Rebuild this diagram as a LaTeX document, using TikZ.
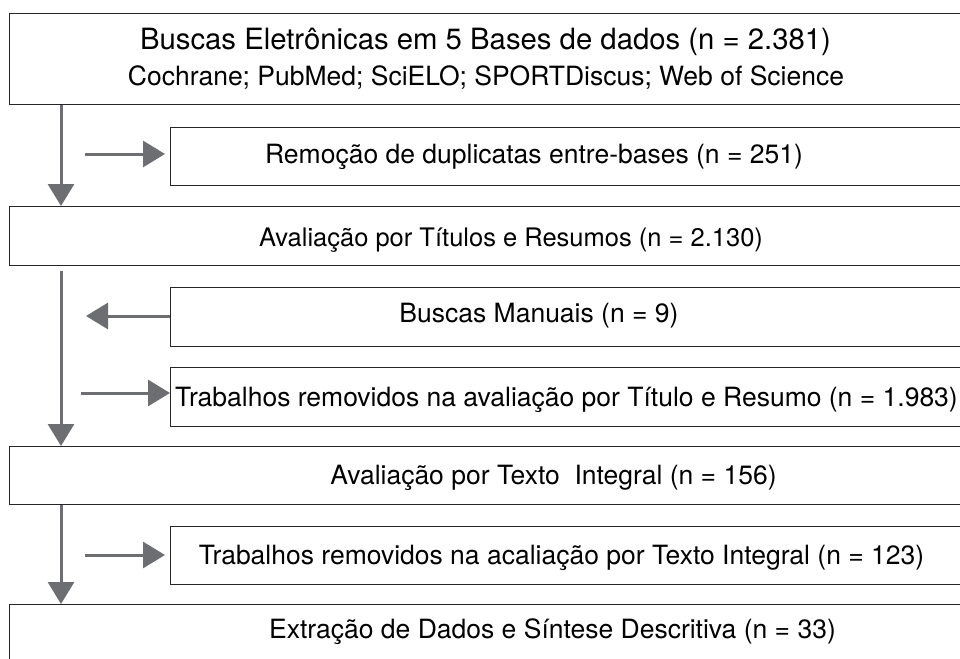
\documentclass[tikz,border=0pt]{standalone}
\usepackage{fontspec}
\setmainfont{TeX Gyre Heros}
\usetikzlibrary{arrows.meta}
\definecolor{flowgray}{RGB}{109,110,113}
\tikzset{
    stage/.style={rectangle, draw=black!85, line width=1.2pt, anchor=north west, minimum width=1000pt, inner sep=0pt},
    boxtext/.style={anchor=base, inner sep=0pt, font=\fontsize{26.5}{30}\selectfont, text=black},
    arrow/.style={draw=flowgray, line width=3pt, -{Triangle[width=26pt,length=22pt]}}
}

\begin{document}
\begin{tikzpicture}[x=1pt, y=-1pt]
    \useasboundingbox (0,0) rectangle (960,658);
    \clip (0,0) rectangle (960,658);

    % Boxes
    \node (search) [stage, minimum height=91pt] at (9,13) {};
    \node (dedup) [stage, minimum height=58pt] at (170,127) {};
    \node (screen) [stage, minimum height=59pt] at (9,206) {};
    \node (manual) [stage, minimum height=59pt] at (170,287) {};
    \node (excl1) [stage, minimum height=59pt] at (170,367) {};
    \node (fulltext) [stage, minimum height=58pt] at (9,446) {};
    \node (excl2) [stage, minimum height=58pt] at (170,526) {};
    \node (extract) [stage, minimum height=100pt] at (9,604) {};

    % Texts
    \node (searchtxt) [boxtext, font=\fontsize{29.3}{32}\selectfont] at (485.5,50) {Buscas Eletrônicas em 5 Bases de dados (n = 2.381)};
    \node (basestxt) [boxtext] at (486,86) {Cochrane; PubMed; SciELO; SPORTDiscus; Web of Science};
    \node (deduptxt) [boxtext] at (534,163) {Remoção de duplicatas entre-bases (n = 251)};
    \node (screentxt) [boxtext, anchor=base west, font=\fontsize{25.5}{30}\selectfont] at (259,246) {Avaliação por Títulos e Resumos (n = 2.130)};
    \node (manualtxt) [boxtext] at (539,322) {Buscas Manuais (n = 9)};
    \node (excl1txt) [boxtext, anchor=base west] at (175,406) {Trabalhos removidos na avaliação por Título e Resumo (n = 1.983)};
    \node (fulltexttxt) [boxtext] at (553.5,484) {Avaliação por Texto\ \ Integral (n = 156)};
    \node (excl2txt) [boxtext] at (561.5,564) {Trabalhos removidos na acaliação por Texto Integral (n = 123)};
    \node (extracttxt) [boxtext] at (552.5,638) {Extração de Dados e Síntese Descritiva (n = 33)};

    % Arrows
    \coordinate (spine) at (61,0);
    \coordinate (spine2) at (61,271);
    \draw[arrow] (search.south -| spine) -- (screen.north -| spine);
    \draw[arrow] (spine2) -- (spine2 |- fulltext.north);
    \draw[arrow] (fulltext.south -| spine) -- (extract.north -| spine);

    \coordinate (in1) at (85,154);
    \coordinate (out1) at (86,316);
    \coordinate (in2) at (81,393);
    \coordinate (in3) at (85,555);
    \draw[arrow, shorten >=5pt] (in1) -- (in1 -| dedup.west);
    \draw[arrow] (manual.west |- out1) -- (out1);
    \draw[arrow] (in2) -- (in2 -| excl1.west);
    \draw[arrow, shorten >=5pt] (in3) -- (in3 -| excl2.west);

\end{tikzpicture}
\end{document}
